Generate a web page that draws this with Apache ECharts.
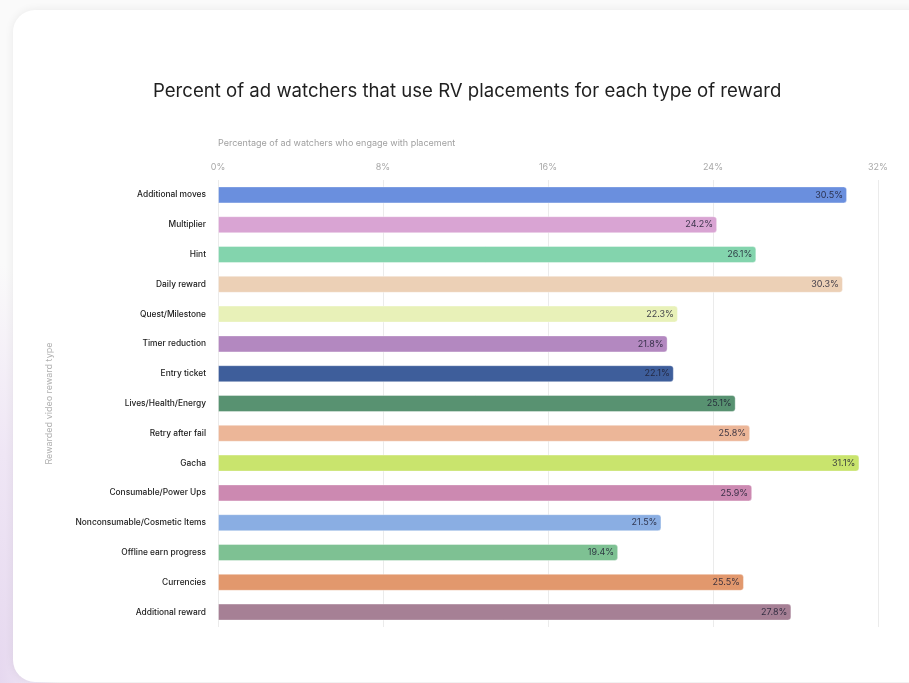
<!DOCTYPE html>
<html>
<head>
<meta charset="utf-8">
<script src="https://cdn.jsdelivr.net/npm/echarts@6/dist/echarts.min.js"></script>
<style>
  html, body { margin: 0; padding: 0; width: 909px; height: 683px; overflow: hidden; }
  body {
    background:
      radial-gradient(ellipse 60px 420px at 0px 683px, #e6d8ef 0%, #efe6f5 55%, rgba(250,250,250,0) 100%),
      #fafafa;
    position: relative;
  }
  #card {
    position: absolute; left: 13px; top: 10px; width: 940px; height: 672px;
    background: #ffffff; border-radius: 22px;
    box-shadow: 0 0 10px rgba(0,0,0,0.07);
  }
  #chart { position: absolute; left: 0; top: 0; width: 909px; height: 683px; }
</style>
</head>
<body>
<div id="card"></div>
<div id="chart"></div>
<script>
// Reward types, top to bottom
const categories = [
  'Additional moves', 'Multiplier', 'Hint', 'Daily reward', 'Quest/Milestone',
  'Timer reduction', 'Entry ticket', 'Lives/Health/Energy', 'Retry after fail',
  'Gacha', 'Consumable/Power Ups', 'Nonconsumable/Cosmetic Items',
  'Offline earn progress', 'Currencies', 'Additional reward'
];
// Percent of ad watchers engaging with each placement
const values = [30.5, 24.2, 26.1, 30.3, 22.3, 21.8, 22.1, 25.1, 25.8, 31.1, 25.9, 21.5, 19.4, 25.5, 27.8];
const barColors = [
  '#6a8fde', '#d9a4d3', '#83d4ad', '#ecd0b6', '#e8f1b8',
  '#b388c0', '#3e5e9b', '#589271', '#ecb698', '#c9e46d',
  '#cc89b1', '#8aaee3', '#7ec193', '#e2986d', '#a68095'
];
const xTicks = [0, 8, 16, 24, 32];

const chart = echarts.init(document.getElementById('chart'), null, { renderer: 'canvas' });
const FONT = 'Inter, "Noto Sans", sans-serif';

chart.setOption({
  backgroundColor: 'transparent',
  animation: false,
  title: {
    text: 'Percent of ad watchers that use RV placements for each type of reward',
    left: 148, top: 77,
    textStyle: { fontFamily: FONT, fontSize: 18.6, fontWeight: 'normal', color: '#1f1f1f' }
  },
  grid: { left: 218, right: 31, top: 180, bottom: 56, containLabel: false },
  xAxis: {
    type: 'value', position: 'top',
    min: xTicks[0], max: xTicks[xTicks.length - 1], interval: 8,
    name: 'Percentage of ad watchers who engage with placement',
    nameLocation: 'start', nameGap: 0,
    nameTextStyle: { fontFamily: FONT, fontSize: 9, color: '#a0a0a0', align: 'left', verticalAlign: 'bottom', padding: [0, 0, 32, 0] },
    axisLine: { show: false }, axisTick: { show: false },
    axisLabel: { formatter: '{value}%', fontFamily: FONT, fontSize: 9, color: '#a8a8a8', margin: 8 },
    splitLine: { show: true, lineStyle: { color: '#ebebeb', width: 1 } }
  },
  yAxis: {
    type: 'category', inverse: true, data: categories,
    name: 'Rewarded video reward type', nameLocation: 'middle', nameGap: 164, nameRotate: 90,
    nameTextStyle: { fontFamily: FONT, fontSize: 9, color: '#b0b0b0', padding: [0, 0, 0, 0] },
    axisLine: { show: false }, axisTick: { show: false },
    axisLabel: { fontFamily: FONT, fontSize: 8.4, fontWeight: 500, color: '#1a1a1a', margin: 12 }
  },
  series: [{
    type: 'bar',
    data: values.map((v, i) => ({
      value: v,
      itemStyle: { color: barColors[i] }
    })),
    barWidth: 17,
    itemStyle: { borderRadius: [0, 3, 3, 0], borderColor: 'rgba(255,255,255,0.35)', borderWidth: 1 },
    label: {
      show: true, position: 'insideRight', distance: 4,
      formatter: p => p.value.toFixed(1) + '%',
      fontFamily: FONT, fontSize: 9, color: 'rgba(30,30,50,0.85)'
    }
  }]
});
</script>
</body>
</html>
